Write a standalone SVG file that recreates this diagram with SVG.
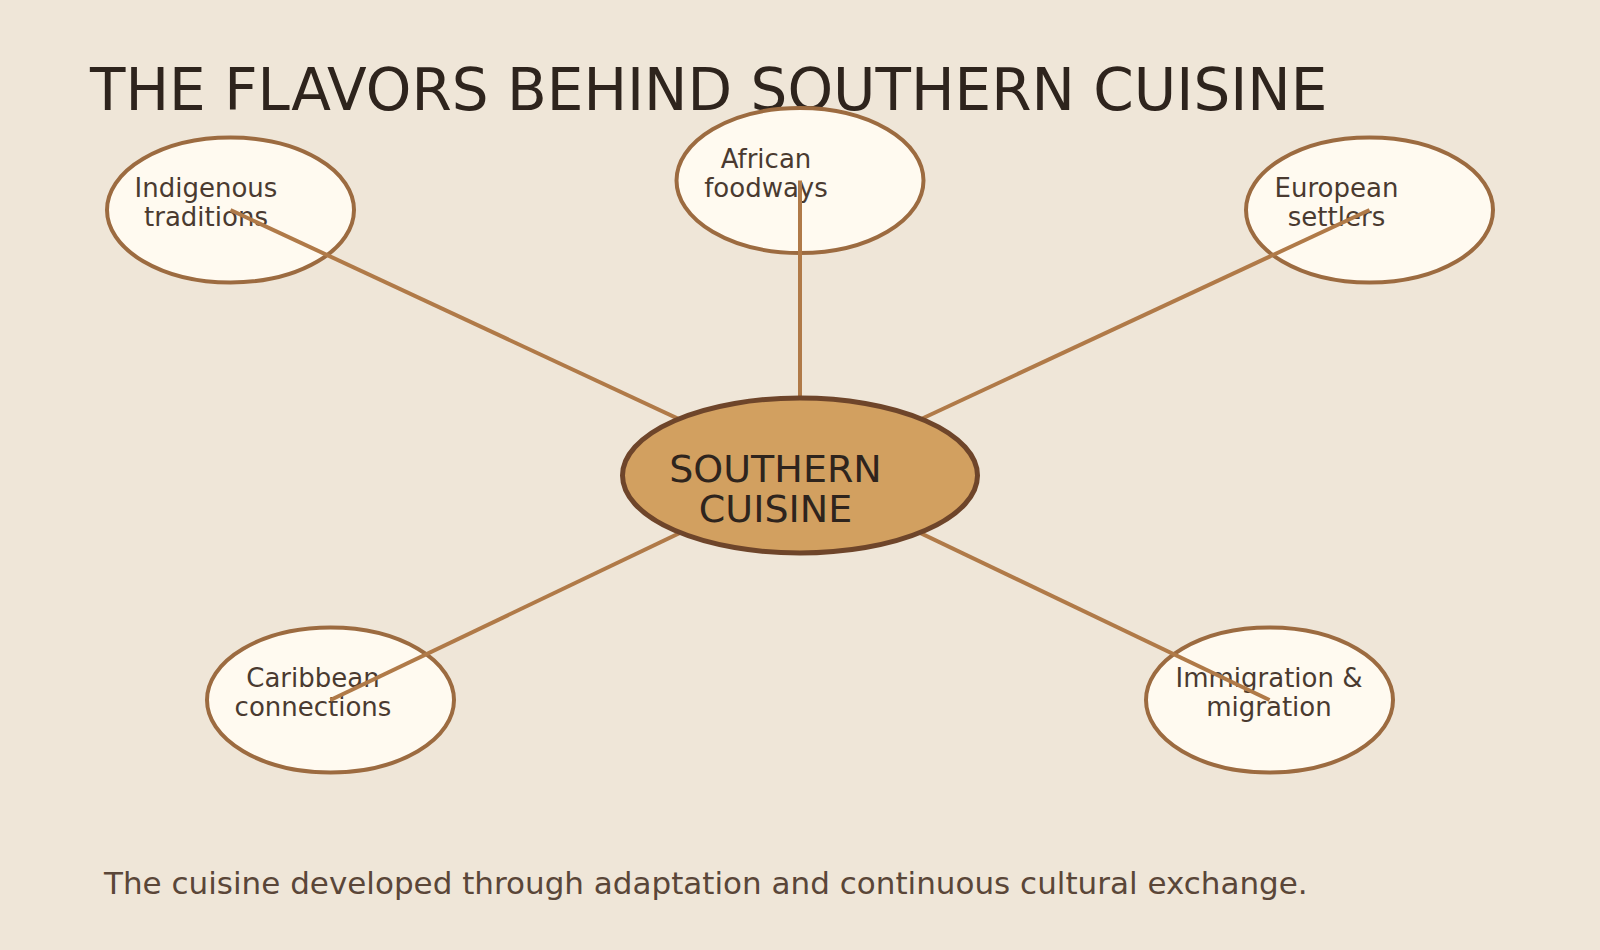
<svg xmlns="http://www.w3.org/2000/svg" width="1600" height="950" viewBox="0 0 1600 950">
<style>
.bg{fill:#EFE6D8}
.outer{fill:#FFFAF0;stroke:#9C6B40;stroke-width:4}
.hub{fill:#D2A060;stroke:#6E452A;stroke-width:5}
.lbl{font-family:"DejaVu Sans",sans-serif;font-size:26px;fill:#4A3A30;text-anchor:middle}
.hubt{font-family:"DejaVu Sans",sans-serif;font-size:38px;fill:#2E241D;text-anchor:middle}
.title{font-family:"DejaVu Sans",sans-serif;font-size:58px;fill:#2E241D}
.foot{font-family:"DejaVu Sans",sans-serif;font-size:31px;fill:#5A4638}
.conn line{stroke:#B07A48;stroke-width:4}
</style>
<rect class="bg" x="0" y="0" width="1600" height="950"/>
<text class="title" x="90" y="110">THE FLAVORS BEHIND SOUTHERN CUISINE</text>
<g id="indigenous">
<ellipse class="outer" cx="230.5" cy="210" rx="123.5" ry="72.5"/>
<text class="lbl" x="206" y="197">Indigenous</text>
<text class="lbl" x="206" y="226">traditions</text>
</g>
<g id="african">
<ellipse class="outer" cx="800" cy="180.5" rx="123.5" ry="72.5"/>
<text class="lbl" x="766" y="167.5">African</text>
<text class="lbl" x="766" y="197">foodways</text>
</g>
<g id="european">
<ellipse class="outer" cx="1369.5" cy="210" rx="123.5" ry="72.5"/>
<text class="lbl" x="1336.5" y="197">European</text>
<text class="lbl" x="1336.5" y="226">settlers</text>
</g>
<g id="caribbean">
<ellipse class="outer" cx="330.5" cy="700" rx="123.5" ry="72.5"/>
<text class="lbl" x="313" y="686.5">Caribbean</text>
<text class="lbl" x="313" y="716">connections</text>
</g>
<g id="immigration">
<ellipse class="outer" cx="1269.5" cy="700" rx="123.5" ry="72.5"/>
<text class="lbl" x="1269" y="686.5">Immigration &amp;</text>
<text class="lbl" x="1269" y="716">migration</text>
</g>
<g id="connectors" class="conn">
<line x1="230.5" y1="210" x2="800" y2="475.5"/>
<line x1="800" y1="180.5" x2="800" y2="475.5"/>
<line x1="1369.5" y1="210" x2="800" y2="475.5"/>
<line x1="330.5" y1="700" x2="800" y2="475.5"/>
<line x1="1269.5" y1="700" x2="800" y2="475.5"/>
</g>
<g id="hub">
<ellipse class="hub" cx="800" cy="475.5" rx="177.5" ry="77.5"/>
<text class="hubt" x="775.5" y="481.5">SOUTHERN</text>
<text class="hubt" x="775.5" y="521.5">CUISINE</text>
</g>
<text class="foot" x="104" y="894">The cuisine developed through adaptation and continuous cultural exchange.</text>
</svg>
